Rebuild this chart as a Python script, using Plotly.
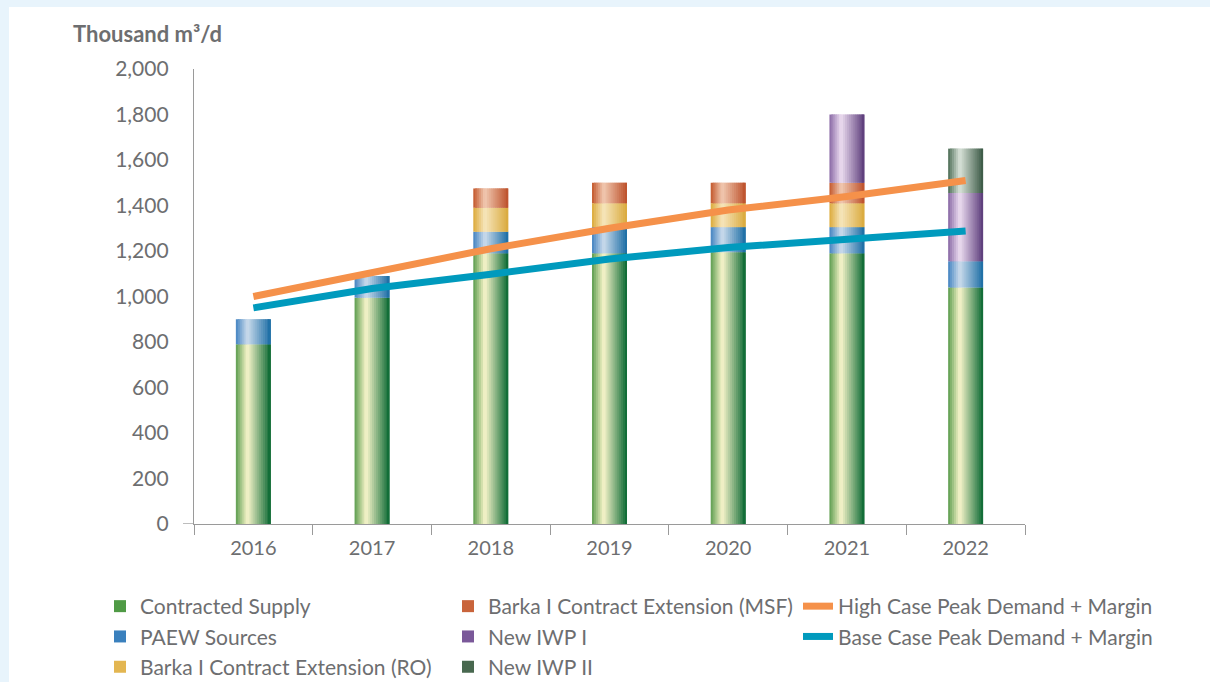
import plotly.graph_objects as go

# ---------------- data ----------------
years = ["2016", "2017", "2018", "2019", "2020", "2021", "2022"]
contracted_supply = [790, 995, 1190, 1190, 1195, 1190, 1040]
paew_sources = [110, 95, 95, 115, 110, 115, 115]
barka_ro = [0, 0, 105, 105, 105, 105, 0]
barka_msf = [0, 0, 85, 90, 90, 90, 0]
new_iwp_1 = [0, 0, 0, 0, 0, 300, 300]
new_iwp_2 = [0, 0, 0, 0, 0, 0, 195]
high_case = [1000, 1108, 1210, 1300, 1380, 1440, 1510]
base_case = [950, 1035, 1098, 1165, 1215, 1255, 1288]

y_ticks = [0, 200, 400, 600, 800, 1000, 1200, 1400, 1600, 1800, 2000]

# ---------------- styles ----------------
GREY = "#6d6e70"
AXIS = "#9a9a9a"
FONT = "Lato, 'Open Sans', sans-serif"

# (name, values, left, highlight, right colour, legend id, legend colour)
stack = [
    ("Contracted Supply", contracted_supply, "#5c9d4e", "#faf6cc", "#096832", "legend", "#4f9a45"),
    ("PAEW Sources", paew_sources, "#4484c1", "#ccdcec", "#1a6ca4", "legend", "#3a80bd"),
    ("Barka I Contract Extension (RO)", barka_ro, "#dcaa3a", "#f6e6bd", "#daa93c", "legend", "#e3b651"),
    ("Barka I Contract Extension (MSF)", barka_msf, "#c3572c", "#f1cab2", "#bd502a", "legend2", "#c9643b"),
    ("New IWP I", new_iwp_1, "#8968a5", "#eddef1", "#5a3a79", "legend2", "#7a5899"),
    ("New IWP II", new_iwp_2, "#4d6d56", "#dae4da", "#385743", "legend2", "#48684f"),
]

BAR_W = 0.295
N_STRIPS = 18
HI_POS = 0.33


def hex2rgb(h):
    h = h.lstrip("#")
    return tuple(int(h[i:i + 2], 16) for i in (0, 2, 4))


def mix(c1, c2, t):
    a, b = hex2rgb(c1), hex2rgb(c2)
    return "rgb(%d,%d,%d)" % tuple(round(a[k] + (b[k] - a[k]) * t) for k in range(3))


def grad(left, hi, right, t):
    if t <= HI_POS:
        return mix(left, hi, t / HI_POS)
    return mix(hi, right, (t - HI_POS) / (1 - HI_POS))


fig = go.Figure()

strip = BAR_W / N_STRIPS
base = [0] * len(years)
for name, vals, cl, ch, cr, leg, legc in stack:
    for i in range(N_STRIPS):
        t = (i + 0.5) / N_STRIPS
        w = strip * (1.9 if i < N_STRIPS - 1 else 1.0)
        fig.add_trace(go.Bar(
            x=years, y=vals, base=list(base),
            offset=-BAR_W / 2 + i * strip, width=w,
            marker=dict(color=grad(cl, ch, cr, t), line=dict(width=0)),
            name=name, legendgroup=name, legend=leg, showlegend=False,
            hoverinfo="skip",
        ))
    # legend entry for the series
    fig.add_trace(go.Bar(
        x=[None], y=[None], name=name, legendgroup=name, legend=leg,
        marker=dict(color=legc, line=dict(width=0)), showlegend=True,
    ))
    base = [b + v for b, v in zip(base, vals)]

fig.add_trace(go.Scatter(
    x=years, y=high_case, mode="lines", name="High Case Peak Demand + Margin",
    line=dict(color="#f5914a", width=7), legend="legend3",
))
fig.add_trace(go.Scatter(
    x=years, y=base_case, mode="lines", name="Base Case Peak Demand + Margin",
    line=dict(color="#009abd", width=7), legend="legend3",
))

# plot area in px
L, R, T, B = 194, 1025, 69, 524
PW, PH = R - L, B - T


def px_x(p):
    return (p - L) / PW


def px_y(p):
    return (B - p) / PH


def legend_at(xpx):
    return dict(
        orientation="v", traceorder="normal",
        x=px_x(xpx), xanchor="left", y=px_y(586), yanchor="top",
        font=dict(family=FONT, size=21, color=GREY),
        bgcolor="rgba(0,0,0,0)", itemclick=False, itemdoubleclick=False,
    )


fig.update_layout(
    width=1210, height=682,
    margin=dict(l=L, r=1210 - R, t=T, b=682 - B, pad=0, autoexpand=False),
    paper_bgcolor="#e8f4fc",
    plot_bgcolor="rgba(0,0,0,0)",
    barmode="overlay",
    font=dict(family=FONT, color=GREY, size=19),
    showlegend=True,
    legend=legend_at(100),
    legend2=legend_at(448),
    legend3=legend_at(798),
    xaxis=dict(
        type="category", tickson="boundaries", ticks="outside", ticklen=10,
        tickcolor=AXIS, tickwidth=1.3, showline=True, linecolor=AXIS, linewidth=1.3,
        showgrid=False, zeroline=False, ticklabelstandoff=6,
        tickfont=dict(family=FONT, size=20, color=GREY),
        range=[-0.5, 6.5],
    ),
    yaxis=dict(
        range=[0, 2000], tickvals=y_ticks, tickformat=",", ticks="",
        showline=True, linecolor=AXIS, linewidth=1.3, showgrid=False, zeroline=False,
        tickfont=dict(family=FONT, size=21, color=GREY), ticklabelstandoff=20,
    ),
    shapes=[
        dict(type="rect", xref="paper", yref="paper",
             x0=px_x(9), x1=px_x(1215), y0=px_y(690), y1=px_y(7),
             fillcolor="white", line=dict(width=0), layer="below"),
        dict(type="line", xref="paper", yref="y", x0=px_x(183), x1=0, y0=0, y1=0,
             line=dict(color=AXIS, width=1.3)),
    ],
    annotations=[
        dict(text="<b>Thousand m³/d</b>", xref="paper", yref="paper",
             x=px_x(71), y=px_y(33), xanchor="left", yanchor="middle",
             showarrow=False, font=dict(family=FONT, size=22, color=GREY)),
    ],
)

fig.write_html(
    "out.html",
    config={"displayModeBar": False},
    post_script="document.body.style.margin='0px';",
)
